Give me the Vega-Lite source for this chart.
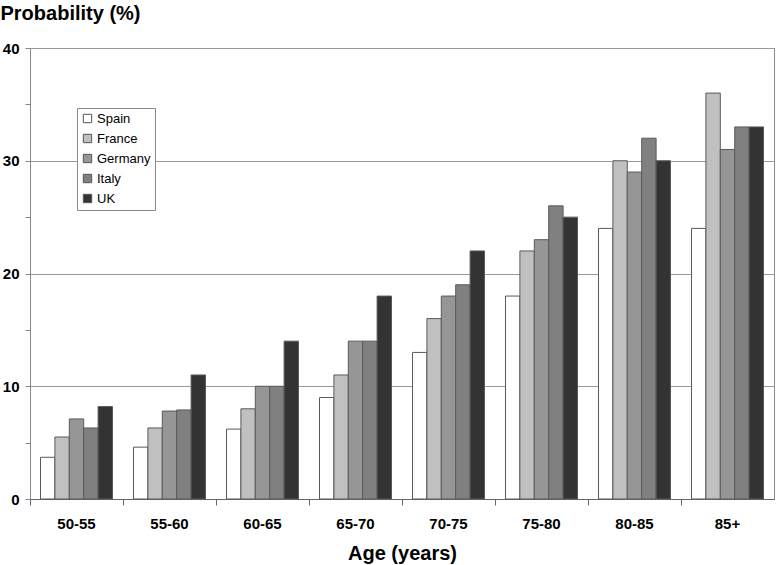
{
  "$schema": "https://vega.github.io/schema/vega-lite/v6.json",
  "autosize": {"type": "none"},
  "padding": {"left": 30, "top": 48, "right": 3, "bottom": 66},
  "width": 744,
  "height": 451,
  "background": "white",
  "config": {
    "font": "Liberation Sans",
    "view": {"stroke": "#888888", "strokeWidth": 1}
  },
  "data": {
    "values": [
      {"age": "50-55", "country": "Spain", "p": 3.7},
      {"age": "50-55", "country": "France", "p": 5.5},
      {"age": "50-55", "country": "Germany", "p": 7.1},
      {"age": "50-55", "country": "Italy", "p": 6.3},
      {"age": "50-55", "country": "UK", "p": 8.2},
      {"age": "55-60", "country": "Spain", "p": 4.6},
      {"age": "55-60", "country": "France", "p": 6.3},
      {"age": "55-60", "country": "Germany", "p": 7.8},
      {"age": "55-60", "country": "Italy", "p": 7.9},
      {"age": "55-60", "country": "UK", "p": 11},
      {"age": "60-65", "country": "Spain", "p": 6.2},
      {"age": "60-65", "country": "France", "p": 8},
      {"age": "60-65", "country": "Germany", "p": 10},
      {"age": "60-65", "country": "Italy", "p": 10},
      {"age": "60-65", "country": "UK", "p": 14},
      {"age": "65-70", "country": "Spain", "p": 9},
      {"age": "65-70", "country": "France", "p": 11},
      {"age": "65-70", "country": "Germany", "p": 14},
      {"age": "65-70", "country": "Italy", "p": 14},
      {"age": "65-70", "country": "UK", "p": 18},
      {"age": "70-75", "country": "Spain", "p": 13},
      {"age": "70-75", "country": "France", "p": 16},
      {"age": "70-75", "country": "Germany", "p": 18},
      {"age": "70-75", "country": "Italy", "p": 19},
      {"age": "70-75", "country": "UK", "p": 22},
      {"age": "75-80", "country": "Spain", "p": 18},
      {"age": "75-80", "country": "France", "p": 22},
      {"age": "75-80", "country": "Germany", "p": 23},
      {"age": "75-80", "country": "Italy", "p": 26},
      {"age": "75-80", "country": "UK", "p": 25},
      {"age": "80-85", "country": "Spain", "p": 24},
      {"age": "80-85", "country": "France", "p": 30},
      {"age": "80-85", "country": "Germany", "p": 29},
      {"age": "80-85", "country": "Italy", "p": 32},
      {"age": "80-85", "country": "UK", "p": 30},
      {"age": "85+", "country": "Spain", "p": 24},
      {"age": "85+", "country": "France", "p": 36},
      {"age": "85+", "country": "Germany", "p": 31},
      {"age": "85+", "country": "Italy", "p": 33},
      {"age": "85+", "country": "UK", "p": 33}
    ]
  },
  "mark": {"type": "bar", "stroke": "#5a5a5a", "strokeWidth": 1},
  "encoding": {
    "x": {
      "field": "age",
      "type": "nominal",
      "sort": null,
      "scale": {"paddingInner": 0, "paddingOuter": 0},
      "axis": {
        "title": "Age (years)",
        "titleFontSize": 20,
        "titleFontWeight": "bold",
        "titleColor": "black",
        "titlePadding": 12,
        "labelAngle": 0,
        "labelFontSize": 15,
        "labelFontWeight": "bold",
        "labelColor": "black",
        "labelPadding": 11,
        "bandPosition": 0,
        "labelOffset": 0,
        "tickSize": 6,
        "tickColor": "#666666",
        "domainColor": "#666666",
        "grid": false
      }
    },
    "xOffset": {
      "field": "country",
      "type": "nominal",
      "sort": ["Spain", "France", "Germany", "Italy", "UK"],
      "scale": {"paddingInner": 0, "paddingOuter": 0.73}
    },
    "y": {
      "field": "p",
      "type": "quantitative",
      "scale": {"domain": [0, 40], "nice": false},
      "axis": {
        "title": "Probability (%)",
        "titleAngle": 0,
        "titleAlign": "left",
        "titleBaseline": "alphabetic",
        "titleX": -30,
        "titleY": -29,
        "titleFontSize": 20,
        "titleFontWeight": "bold",
        "titleColor": "black",
        "values": [0, 5, 10, 15, 20, 25, 30, 35, 40],
        "labelExpr": "datum.value % 10 === 0 ? datum.label : ''",
        "labelFontSize": 15,
        "labelFontWeight": "bold",
        "labelColor": "black",
        "labelPadding": 6,
        "tickSize": 5,
        "tickColor": "#888888",
        "domainColor": "#888888",
        "grid": true,
        "gridColor": "#999999",
        "gridOpacity": {"condition": {"test": "datum.value % 10 === 0 && datum.value > 0", "value": 1}, "value": 0}
      }
    },
    "fill": {
      "field": "country",
      "type": "nominal",
      "sort": ["Spain", "France", "Germany", "Italy", "UK"],
      "scale": {"domain": ["Spain", "France", "Germany", "Italy", "UK"], "range": ["#ffffff", "#c0c0c0", "#969696", "#808080", "#333333"]},
      "legend": {
        "title": null,
        "orient": "none",
        "legendX": 47,
        "legendY": 60,
        "symbolType": "square",
        "symbolSize": 70,
        "symbolStrokeColor": "#555555",
        "symbolStrokeWidth": 1,
        "labelFontSize": 13,
        "labelColor": "black",
        "labelOffset": 3,
        "rowPadding": 6,
        "strokeColor": "#888888",
        "fillColor": "white",
        "padding": 4
      }
    }
  }
}
